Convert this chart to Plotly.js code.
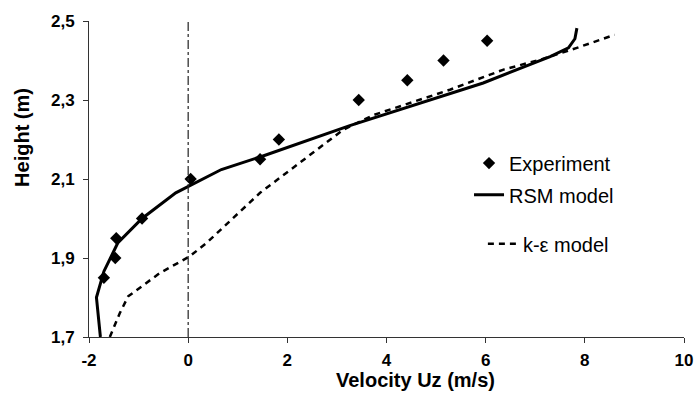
<!DOCTYPE html>
<html>
<head>
<meta charset="utf-8">
<script src="https://cdn.plot.ly/plotly-3.0.1.min.js"></script>
<style>html,body{margin:0;padding:0;background:#fff;}#chart{width:696px;height:396px;}</style>
</head>
<body>
<div id="chart"></div>
<script>
// Experimental points
const expVelocity = [-1.70, -1.47, -1.45, -0.93, 0.05, 1.45, 1.83, 3.44, 4.42, 5.15, 6.03];
const expHeight   = [1.85, 1.90, 1.95, 2.00, 2.10, 2.15, 2.20, 2.30, 2.35, 2.40, 2.45];

// RSM model curve
const rsmVelocity = [-1.77, -1.85, -1.70, -1.42, -0.93, -0.25, 0.67, 1.48, 3.26, 5.95, 7.30, 7.67, 7.80, 7.84];
const rsmHeight   = [1.70, 1.80, 1.866, 1.938, 2.00, 2.065, 2.124, 2.157, 2.235, 2.343, 2.41, 2.432, 2.455, 2.482];

// k-epsilon model curve
const keVelocity = [-1.58, -1.38, -1.21, -0.57, 0.03, 0.37, 1.45, 1.71, 3.13, 3.74, 5.28, 6.36, 7.10, 7.84, 8.60];
const keHeight   = [1.70, 1.76, 1.803, 1.862, 1.904, 1.938, 2.065, 2.09, 2.225, 2.262, 2.326, 2.377, 2.402, 2.432, 2.465];

// Ticks
const xTickVals = [-2, 0, 2, 4, 6, 8, 10];
const xTickText = ['-2', '0', '2', '4', '6', '8', '10'];
const yTickVals = [1.7, 1.9, 2.1, 2.3, 2.5];
const yTickText = ['1,7', '1,9', '2,1', '2,3', '2,5'];

const seriesNames = ['Experiment', 'RSM model', 'k-ε model'];
const xTitle = 'Velocity Uz (m/s)';
const yTitle = 'Height (m)';

const FONT = 'Liberation Sans, Arial, sans-serif';

const traces = [
  {
    x: rsmVelocity, y: rsmHeight, name: seriesNames[1], mode: 'lines',
    line: {color: '#000', width: 3}, legend: 'legend2'
  },
  {
    x: keVelocity, y: keHeight, name: seriesNames[2], mode: 'lines',
    line: {color: '#000', width: 2.5, dash: '6px,5px'}, legend: 'legend3'
  },
  {
    x: expVelocity, y: expHeight, name: seriesNames[0], mode: 'markers',
    marker: {symbol: 'diamond', size: 9.5, color: '#000'}, legend: 'legend'
  }
];

const legendBase = {
  bgcolor: 'rgba(0,0,0,0)', borderwidth: 0,
  font: {family: FONT, size: 20, color: '#000'},
  xanchor: 'left', yanchor: 'top'
};

const layout = {
  width: 696, height: 396,
  margin: {l: 89, r: 12, t: 21, b: 59},
  paper_bgcolor: '#fff', plot_bgcolor: '#fff',
  font: {family: FONT, color: '#000'},
  xaxis: {
    range: [-2, 10], tickvals: xTickVals, ticktext: xTickText,
    showgrid: false, zeroline: false, showline: true, linecolor: '#333', linewidth: 1,
    ticks: 'outside', ticklen: 5, tickcolor: '#333', ticklabelstandoff: 3,
    tickfont: {family: FONT, size: 17, weight: 'bold', color: '#000'}
  },
  yaxis: {
    range: [1.7, 2.5], tickvals: yTickVals, ticktext: yTickText,
    showgrid: false, zeroline: false, showline: true, linecolor: '#333', linewidth: 1,
    ticks: 'outside', ticklen: 5, tickcolor: '#333', ticklabelstandoff: 5,
    tickfont: {family: FONT, size: 17, weight: 'bold', color: '#000'}
  },
  showlegend: true,
  legend: Object.assign({}, legendBase, {x: 0.6387, y: 0.612}),
  legend2: Object.assign({}, legendBase, {x: 0.6387, y: 0.512}),
  legend3: Object.assign({}, legendBase, {x: 0.662, y: 0.357}),
  shapes: [{
    type: 'line', xref: 'x', yref: 'y', x0: 0, x1: 0, y0: 1.7, y1: 2.515,
    line: {color: '#222', width: 1.2, dash: 'dashdot'}
  }],
  annotations: [
    {text: xTitle, xref: 'paper', yref: 'paper', x: 0.548, y: -0.136,
     xanchor: 'center', yanchor: 'middle', showarrow: false,
     font: {family: FONT, size: 20, weight: 'bold', color: '#000'}},
    {text: yTitle, xref: 'paper', yref: 'paper', x: -0.1126, y: 0.63,
     xanchor: 'center', yanchor: 'middle', showarrow: false, textangle: -90,
     font: {family: FONT, size: 20, weight: 'bold', color: '#000'}}
  ]
};

Plotly.newPlot('chart', traces, layout, {displayModeBar: false, staticPlot: true});
</script>
</body>
</html>
